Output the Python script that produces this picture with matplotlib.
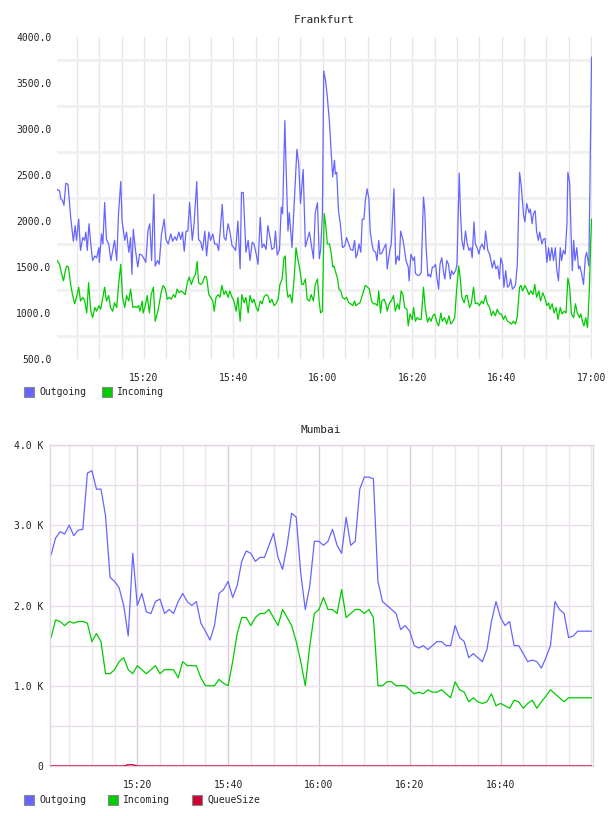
import matplotlib
matplotlib.use("Agg")
import matplotlib.pyplot as plt
import numpy as np
from matplotlib.patches import Rectangle
from matplotlib.ticker import FixedLocator, FuncFormatter

# Frankfurt: minutes after 15:00 and values
fra_out_t = [
    0.6, 1.1, 1.4, 1.8, 2.1, 2.5, 3.0, 3.6, 4.2, 4.6, 4.9, 5.4, 5.8, 6.3, 6.7, 7.0, 7.3, 7.7, 8.1, 8.5,
    9.0, 9.4, 9.9, 10.0, 10.5, 10.8, 11.2, 11.6, 12.1, 12.6, 13.0, 13.4, 13.9, 14.3, 14.8, 15.1, 15.7, 16.1, 16.6, 17.0,
    17.3, 17.6, 18.1, 18.6, 19.0, 19.5, 20.0, 20.4, 20.9, 21.3, 21.7, 22.2, 22.5, 23.0, 23.4, 23.9, 24.5, 24.9, 25.4, 26.0,
    26.4, 26.9, 27.3, 27.8, 28.2, 28.6, 29.0, 29.4, 29.8, 30.2, 30.8, 31.2, 31.8, 32.2, 32.7, 33.1, 33.6, 34.0, 34.5, 34.9,
    35.4, 35.8, 36.3, 36.7, 37.1, 37.5, 37.9, 38.3, 38.8, 39.2, 39.7, 40.1, 40.5, 41.0, 41.5, 41.8, 42.2, 42.8, 43.3, 43.7,
    44.2, 44.6, 45.1, 45.5, 46.0, 46.4, 46.8, 47.3, 47.7, 48.2, 48.6, 49.1, 49.4, 49.8, 50.3, 50.7, 51.0, 51.5, 51.8, 52.2,
    52.5, 53.1, 53.6, 54.2, 54.6, 55.0, 55.6, 56.1, 56.5, 57.0, 57.4, 57.9, 58.3, 58.8, 59.2,
    59.5, 59.9, 60.2, 60.6, 61.0, 61.5, 61.8, 62.2, 62.6, 62.8, 63.1, 63.5, 63.9, 64.4, 64.9, 65.3, 65.8, 66.2, 66.7, 67.1,
    67.4, 67.7, 68.1, 68.5, 68.8, 69.2, 69.5, 69.9, 70.3, 70.6, 71.0, 71.3, 71.8, 72.1, 72.5, 72.8, 73.2, 73.7, 74.1, 74.4,
    74.9, 75.3, 75.9, 76.3, 76.7, 77.1, 77.4, 77.9, 78.2, 78.6, 79.1, 79.3, 79.7, 80.2, 80.5, 80.7, 81.2, 81.6, 82.0, 82.5,
    82.8, 83.1, 83.5, 83.8, 84.1, 84.5, 84.9, 85.2, 85.5, 85.9, 86.2, 86.6, 87.0, 87.3, 87.7, 88.1, 88.5, 88.8, 89.2, 89.7,
    90.0, 90.5, 90.8, 91.1, 91.5, 91.9, 92.3, 92.7, 93.1, 93.4, 93.8, 94.1, 94.5, 94.9, 95.2, 95.6, 96.1, 96.4, 96.9, 97.3,
    97.6, 97.9, 98.3, 98.7, 99.1, 99.5, 99.8, 100.2, 100.5, 100.9, 101.3, 101.7, 102.0, 102.4, 102.8, 103.1, 103.5, 104.0, 104.4, 104.9,
    105.2, 105.6, 106.1, 106.4, 106.8, 107.1, 107.5, 107.8, 108.2, 108.5, 109.0, 109.3, 109.7, 110.1, 110.5, 110.8, 111.2, 111.6, 112.0, 112.3,
    112.7, 113.1, 113.4, 113.8, 114.2, 114.6, 114.8, 115.2, 115.5, 115.8, 116.1, 116.4, 116.8, 117.2, 117.5, 117.9, 118.3, 118.7, 119.0, 119.5,
    120.1,
]
fra_out_v = [
    2340, 2330, 2240, 2220, 2170, 2410, 2400, 2040, 1780, 1950, 1790, 2020, 1680, 1820, 1790, 1880, 1680, 1970, 1750, 1570,
    1620, 1600, 1710, 1550, 1860, 1750, 2200, 1800, 1750, 1570, 1680, 1790, 1570, 2080, 2430, 2000, 1790, 1880, 1660, 1820,
    1420, 1910, 1680, 1500, 1640, 1630, 1590, 1550, 1900, 1970, 1570, 2290, 1510, 1570, 1530, 1850, 2020, 1800, 1750, 1860,
    1780, 1830, 1790, 1880, 1800, 1880, 1670, 1890, 1890, 2200, 1790, 1970, 2430, 1800, 1770, 1680, 1890, 1620, 1880, 1790,
    1860, 1750, 1750, 1680, 1930, 2180, 1820, 1790, 1970, 1890, 1730, 1710, 1680, 2000, 1480, 2310, 2310, 1660, 1790, 1570,
    1770, 1750, 1640, 1530, 2040, 1710, 1750, 1690, 1950, 1820, 1690, 1710, 1890, 1630, 1690, 2150, 2080, 3090, 2550, 1890,
    2090, 1710, 2190, 2780, 2620, 2190, 2560, 1720, 1790, 1880, 1750, 1590, 2090, 2200, 1590,
    1680, 2080, 3630, 3530, 3350, 3060, 2800, 2480, 2660, 2510, 2530, 2110, 1970, 1710, 1730, 1820, 1750, 1690, 1680, 1790,
    1600, 1640, 1750, 1660, 2020, 2020, 2220, 2350, 2240, 1880, 1750, 1680, 1660, 1570, 1790, 1640, 1650, 1710, 1750, 1480,
    1660, 1750, 2350, 1530, 1620, 1570, 1890, 1800, 1710, 1570, 1500, 1350, 1640, 1570, 1610, 1430, 1410, 1410, 1440, 2260,
    2110, 1710, 1400, 1420, 1390, 1500, 1500, 1530, 1390, 1260, 1530, 1600, 1440, 1370, 1570, 1530, 1370, 1460, 1420, 1460,
    1530, 2520, 2080, 1790, 1690, 1890, 1750, 1680, 1710, 1600, 1990, 1750, 1710, 1640, 1710, 1750, 1690, 1890, 1680, 1640,
    1570, 1490, 1570, 1480, 1510, 1370, 1600, 1530, 1280, 1460, 1280, 1300, 1370, 1260, 1280, 1310, 1530, 2530, 2370, 2060,
    1990, 2190, 2090, 2130, 1970, 2080, 2110, 1890, 1790, 1880, 1750, 1800, 1810, 1550, 1710, 1570, 1710, 1570, 1710, 1480,
    1350, 1710, 1570, 1680, 1640, 1970, 2530, 2420, 1890, 1460, 1790, 1570, 1710, 1480, 1510, 1420, 1310, 1600, 1660, 1510,
    3780,
]
fra_in_t = [
    0.6, 1.1, 1.5, 2.0, 2.4, 2.7, 3.1, 3.6, 4.0, 4.5, 4.9, 5.4, 5.8, 6.3, 6.7, 7.2, 7.6, 8.1, 8.5, 9.0,
    9.4, 9.9, 10.3, 10.8, 11.2, 11.6, 12.1, 12.5, 13.0, 13.4, 13.9, 14.3, 14.8, 15.2, 15.7, 16.1, 16.6, 17.0, 17.5, 17.9,
    18.4, 18.8, 19.1, 19.6, 19.8, 20.3, 20.7, 21.2, 21.6, 22.1, 22.5, 23.0, 23.4, 23.9, 24.3, 24.8, 25.2, 25.7, 26.1, 26.6,
    27.0, 27.4, 27.9, 28.3, 28.8, 29.2, 29.7, 30.1, 30.6, 31.0, 31.5, 31.9, 32.2, 32.7, 33.1, 33.6, 34.0, 34.5, 34.9, 35.4,
    35.7, 36.1, 36.6, 37.0, 37.4, 37.9, 38.3, 38.8, 39.2, 39.7, 40.1, 40.6, 41.0, 41.5, 41.9, 42.4, 42.8, 43.3, 43.7, 44.2,
    44.6, 45.1, 45.5, 46.0, 46.4, 46.8, 47.3, 47.7, 48.2, 48.6, 49.1, 49.5, 50.0, 50.4, 50.9, 51.3, 51.6, 51.9, 52.2, 52.7,
    53.1, 53.6, 54.0, 54.4, 54.9, 55.3, 55.6, 56.1, 56.5, 57.0, 57.4, 57.9, 58.3, 58.8, 59.2,
    59.5, 59.9, 60.3, 60.7, 61.0, 61.5, 61.9, 62.2, 62.5, 63.0, 63.3, 63.6, 64.0, 64.4, 64.9, 65.3, 65.8, 66.2, 66.7, 67.1,
    67.4, 67.9, 68.3, 68.8, 69.1, 69.5, 70.0, 70.4, 70.9, 71.3, 71.8, 72.2, 72.5, 72.9, 73.2, 73.7, 74.1, 74.4, 74.9, 75.3,
    75.8, 76.2, 76.7, 77.1, 77.5, 77.9, 78.3, 78.8, 79.1, 79.5, 80.0, 80.3, 80.7, 81.1, 81.6, 82.0, 82.5, 82.9, 83.4, 83.8,
    84.2, 84.6, 85.0, 85.5, 85.9, 86.4, 86.7, 87.2, 87.7, 88.2, 88.6, 89.1, 89.5, 89.9, 90.4, 90.7, 91.1, 91.6, 92.0, 92.3,
    92.8, 93.2, 93.7, 94.1, 94.6, 95.0, 95.5, 95.9, 96.4, 96.8, 97.3, 97.7, 98.1, 98.6, 99.0, 99.5, 99.9, 100.4, 100.8, 101.3,
    101.7, 102.2, 102.6, 103.1, 103.5, 104.0, 104.3, 104.7, 105.2, 105.6, 106.1, 106.5, 107.0, 107.4, 107.8, 108.3, 108.7, 109.2, 109.6, 110.1,
    110.5, 110.8, 111.3, 111.7, 112.2, 112.6, 113.1, 113.5, 114.0, 114.4, 114.8, 115.2, 115.6, 116.1, 116.5, 116.9, 117.4, 117.7, 118.1, 118.4,
    118.8, 119.2, 119.6, 119.9, 120.1,
]
fra_in_v = [
    1570, 1530, 1440, 1350, 1460, 1510, 1500, 1310, 1200, 1100, 1170, 1280, 1130, 1170, 1140, 1000, 1330, 1020, 950, 1060,
    1020, 1080, 1040, 1170, 1280, 1130, 1190, 1060, 1020, 1110, 1060, 1300, 1530, 1170, 1060, 1190, 1130, 1260, 1060, 1070,
    1060, 1080, 1020, 1130, 1000, 1080, 1190, 1000, 1200, 1280, 910, 1000, 1100, 1240, 1300, 1260, 1150, 1170, 1150, 1200,
    1170, 1260, 1220, 1240, 1220, 1200, 1330, 1390, 1310, 1370, 1420, 1560, 1330, 1310, 1330, 1400, 1390, 1200, 1170, 1130,
    1020, 1170, 1200, 1170, 1300, 1200, 1240, 1170, 1240, 1170, 1130, 1020, 1170, 910, 1200, 1110, 1170, 1000, 1190, 1110,
    1150, 1060, 1020, 1130, 1100, 1170, 1200, 1190, 1110, 1150, 1080, 1100, 1150, 1310, 1370, 1600, 1620, 1280, 1170, 1200,
    1110, 1390, 1710, 1590, 1460, 1310, 1310, 1370, 1150, 1130, 1200, 1130, 1310, 1370, 1110,
    1000, 1020, 2080, 1930, 1750, 1750, 1640, 1500, 1510, 1420, 1370, 1260, 1240, 1170, 1150, 1170, 1110, 1100, 1080, 1130,
    1080, 1100, 1110, 1190, 1240, 1300, 1280, 1260, 1130, 1100, 1100, 1080, 1240, 1000, 1130, 1150, 1100, 1020, 1110, 1130,
    1190, 1020, 1100, 1040, 1240, 1200, 1060, 1040, 860, 990, 930, 1060, 910, 950, 930, 930, 1280, 1060, 900, 950,
    910, 970, 990, 900, 860, 1000, 910, 950, 880, 970, 880, 910, 950, 1240, 1510, 1390, 1170, 1110, 1190, 1190,
    1060, 1100, 1280, 1100, 1110, 1080, 1130, 1100, 1190, 1100, 1060, 970, 1020, 970, 1040, 990, 990, 930, 970, 910,
    900, 880, 910, 880, 970, 1280, 1300, 1240, 1300, 1260, 1200, 1240, 1200, 1310, 1170, 1240, 1130, 1220, 1170, 1080,
    1110, 1040, 1100, 1000, 1060, 930, 1060, 990, 1020, 1000, 1380, 1280, 990, 950, 1100, 1000, 950, 990, 900, 860,
    950, 840, 1240, 1750, 2020,
]

# Mumbai: one sample per minute, 15:01 .. 17:00
mum_minutes = list(range(1, 121))
mum_out = [
    2630, 2840, 2920, 2890, 3000, 2870, 2940, 2950, 3650, 3680, 3450, 3450, 3120, 2350, 2300, 2220, 2000, 1620, 2650, 2000,
    2150, 1920, 1900, 2050, 2080, 1900, 1950, 1900, 2050, 2150, 2050, 2000, 2050, 1780, 1680, 1570, 1750, 2150, 2200, 2300,
    2100, 2250, 2550, 2680, 2650, 2550, 2600, 2600, 2750, 2900, 2600, 2450, 2750, 3150, 3100, 2400, 1950, 2250, 2800, 2800,
    2750, 2800, 2950, 2750, 2650, 3100, 2750, 2800, 3450, 3600, 3600, 3580, 2300, 2050, 2000, 1950, 1900, 1700, 1750, 1680,
    1500, 1470, 1500, 1450, 1500, 1550, 1550, 1500, 1500, 1750, 1600, 1550, 1350, 1400, 1350, 1300, 1450, 1800, 2050, 1850,
    1750, 1800, 1500, 1500, 1400, 1300, 1320, 1300, 1220, 1350, 1500, 2050, 1950, 1900, 1600, 1620, 1680, 1680, 1680, 1680,
]
mum_in = [
    1600, 1820, 1800, 1750, 1800, 1780, 1800, 1800, 1780, 1550, 1650, 1550, 1150, 1150, 1200, 1300, 1350, 1200, 1150, 1250,
    1200, 1150, 1200, 1250, 1150, 1200, 1200, 1200, 1100, 1300, 1250, 1250, 1250, 1100, 1000, 1000, 1000, 1080, 1030, 1000,
    1300, 1650, 1850, 1850, 1750, 1850, 1900, 1900, 1950, 1850, 1750, 1950, 1850, 1750, 1550, 1300, 1000, 1500, 1900, 1950,
    2100, 1950, 1950, 1900, 2200, 1850, 1900, 1950, 1950, 1900, 1950, 1850, 1000, 1000, 1050, 1050, 1000, 1000, 1000, 950,
    900, 920, 900, 950, 920, 920, 950, 900, 850, 1050, 950, 920, 800, 850, 800, 780, 800, 900, 750, 780,
    750, 720, 820, 800, 720, 780, 820, 720, 800, 870, 950, 900, 850, 800, 850, 850, 850, 850, 850, 850,
]
mum_queue = [
    0, 0, 0, 0, 0, 0, 0, 0, 0, 0, 0, 0, 0, 0, 0, 0, 0, 15, 15, 0,
    0, 0, 0, 0, 0, 0, 0, 0, 0, 0, 0, 0, 0, 0, 0, 0, 0, 0, 0, 0,
    0, 0, 0, 0, 0, 0, 0, 0, 0, 0, 0, 0, 0, 0, 0, 0, 0, 0, 0, 0,
    0, 0, 0, 0, 0, 0, 0, 0, 0, 0, 0, 0, 0, 0, 0, 0, 0, 0, 0, 0,
    0, 0, 0, 0, 0, 0, 0, 0, 0, 0, 0, 0, 0, 0, 0, 0, 0, 0, 0, 0,
    0, 0, 0, 0, 0, 0, 0, 0, 0, 0, 0, 0, 0, 0, 0, 0, 0, 0, 0, 0,
]

BLUE = "#6666ff"
GREEN = "#00cc00"
RED = "#cc0033"
TEXT = "#222222"
FONT = "DejaVu Sans Mono"

plt.rcParams["font.family"] = FONT
plt.rcParams["font.size"] = 7

W, H = 608, 816


def box(left, top, right, bottom):
    """Pixel box -> figure rect"""
    return [left / W, 1 - bottom / H, (right - left) / W, (bottom - top) / H]


def hhmm(m, pos=None):
    m = int(round(m))
    return f"{15 + m // 60}:{m % 60:02d}"


def legend(y, items):
    for x, label, color in items:
        fig.patches.append(Rectangle((x / W, 1 - (y + 5) / H), 10 / W, 10 / H,
                                     transform=fig.transFigure, facecolor=color,
                                     edgecolor="#888888", lw=0.8))
        fig.text((x + 15) / W, 1 - y / H, label, ha="left", va="center",
                 color=TEXT, size=7)


fig = plt.figure(figsize=(W / 100, H / 100), dpi=100)

# ---- Frankfurt ----
ax1 = fig.add_axes(box(57, 37, 592, 359))
ax1.plot(fra_out_t, fra_out_v, color=BLUE, lw=0.9)
ax1.plot(fra_in_t, fra_in_v, color=GREEN, lw=0.9)
ax1.set_xlim(0.54, 120.2)
ax1.set_ylim(500, 4000)
for s in ax1.spines.values():
    s.set_visible(False)
ax1.set_xticks(range(20, 121, 20))
ax1.set_xticks(np.arange(5, 121, 5), minor=True)
ax1.xaxis.set_major_formatter(FuncFormatter(hhmm))
ax1.set_yticks(np.arange(500, 4001, 500))
ax1.set_yticklabels([f"{v:.1f}" for v in np.arange(500, 4001, 500)])
ax1.yaxis.set_minor_locator(FixedLocator(np.arange(750, 4000, 500)))
ax1.grid(axis="x", which="both", color="#e6e6e6", lw=1)
ax1.grid(axis="y", which="minor", color="#f1f1f1", lw=2.2)
ax1.set_axisbelow(True)
ax1.tick_params(axis="both", which="both", length=0, colors=TEXT, labelsize=7)
ax1.tick_params(axis="x", pad=10)
ax1.tick_params(axis="y", pad=4)
fig.text(324 / W, 1 - 20 / H, "Frankfurt", ha="center", va="center", color=TEXT, size=8)
legend(392, [(24, "Outgoing", BLUE), (102, "Incoming", GREEN)])

# ---- Mumbai ----
ax2 = fig.add_axes(box(50, 445, 593, 766))
ax2.plot(mum_minutes, mum_out, color=BLUE, lw=0.9)
ax2.plot(mum_minutes, mum_in, color=GREEN, lw=0.9)
ax2.plot(mum_minutes, mum_queue, color=RED, lw=1.0, zorder=4)
ax2.set_xlim(0.77, 120.37)
ax2.set_ylim(0, 4000)
for s in ax2.spines.values():
    s.set_color("#e4d4e4")
    s.set_linewidth(1)
ax2.set_xticks(range(20, 101, 20))
ax2.set_xticks(np.arange(5, 121, 5), minor=True)
ax2.xaxis.set_major_formatter(FuncFormatter(hhmm))
ax2.set_yticks(np.arange(0, 4001, 1000))
ax2.set_yticklabels(["0" if v == 0 else f"{v / 1000:.1f} K" for v in np.arange(0, 4001, 1000)])
ax2.yaxis.set_minor_locator(FixedLocator(np.arange(500, 4000, 1000)))
ax2.grid(axis="x", which="minor", color="#ede5ed", lw=1)
ax2.grid(axis="x", which="major", color="#dccadc", lw=1)
ax2.grid(axis="y", which="both", color="#e8e0e8", lw=1)
ax2.set_axisbelow(True)
ax2.tick_params(axis="both", which="both", length=0, colors=TEXT, labelsize=7)
ax2.tick_params(axis="x", pad=10)
ax2.tick_params(axis="y", pad=5)
fig.text(321 / W, 1 - 430 / H, "Mumbai", ha="center", va="center", color=TEXT, size=8)
legend(800, [(24, "Outgoing", BLUE), (108, "Incoming", GREEN), (192, "QueueSize", RED)])

fig.savefig("out.png", dpi=100)
